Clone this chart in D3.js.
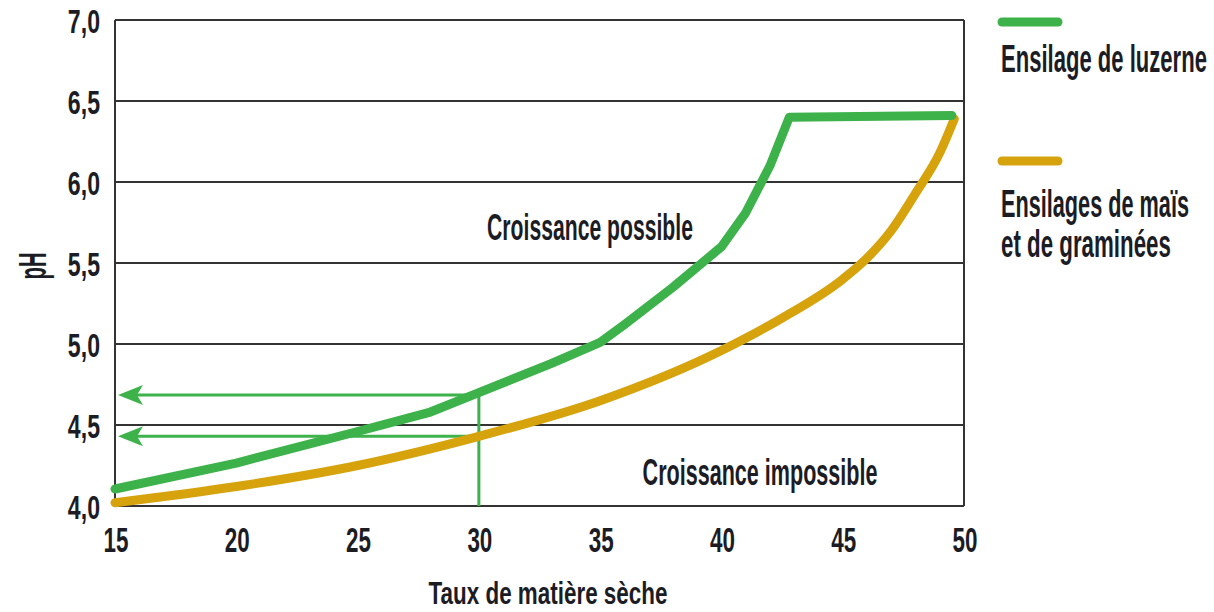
<!DOCTYPE html>
<html><head><meta charset="utf-8">
<script src="https://cdn.jsdelivr.net/npm/d3@7"></script>
<style>
body{margin:0;background:#fff;}
text{font-family:"Liberation Sans","DejaVu Sans",sans-serif;font-weight:bold;fill:#1c1c24;}
</style></head>
<body><svg id="c" width="1214" height="612"></svg>
<script>
const xTicks=[15,20,25,30,35,40,45,50];
const yTicks=[4.0,4.5,5.0,5.5,6.0,6.5,7.0];
const luzerneX=[15,20,25,28,30,33,35,36,38,40,41,42,42.8,49.5];
const luzerneY=[4.105,4.265,4.46,4.58,4.70,4.88,5.01,5.12,5.35,5.60,5.81,6.10,6.40,6.41];
const maisX=[15,20,25,30,35,40,42.5,45,46,47,48,49,49.6];
const maisY=[4.02,4.12,4.25,4.43,4.65,4.96,5.16,5.40,5.53,5.70,5.93,6.18,6.39];
const arrowX=30, arrowYs=[4.685,4.43];
const legend=[{name:["Ensilage de luzerne"],color:"#3db24b"},{name:["Ensilages de maïs","et de graminées"],color:"#d6a30d"}];

const svg=d3.select("#c");
const x=d3.scaleLinear().domain([15,50]).range([115,964]);
const y=d3.scaleLinear().domain([4,7]).range([506,20]);
const green="#3db24b", yellow="#d6a30d";

// condensed text helper: scale horizontally to a fixed width (or fixed factor)
function ctext(g,tx,ty,str,fs,anchor,opt){
  opt=opt||{};
  const t=g.append("text").attr("font-size",fs).attr("text-anchor",anchor||"start").text(str);
  let sx=opt.sx||1;
  if(opt.width){ const len=t.node().getComputedTextLength(); sx=opt.width/len; }
  t.attr("transform",`translate(${tx},${ty})${opt.rot?` rotate(${opt.rot})`:""} scale(${sx},1)`);
  return t;
}

// grid lines
svg.append("g").selectAll("line").data(yTicks).join("line")
 .attr("x1",x(15)).attr("x2",x(50)).attr("y1",d=>y(d)).attr("y2",d=>y(d))
 .attr("stroke","#333").attr("stroke-width",2);
svg.append("line").attr("x1",x(15)).attr("x2",x(15)).attr("y1",y(7)).attr("y2",y(4)).attr("stroke","#333").attr("stroke-width",2);
svg.append("line").attr("x1",x(50)).attr("x2",x(50)).attr("y1",y(7)).attr("y2",y(4)).attr("stroke","#333").attr("stroke-width",2);

// arrows
const ga=svg.append("g");
ga.append("line").attr("x1",x(arrowX)).attr("x2",x(arrowX)).attr("y1",y(arrowYs[0])).attr("y2",y(4))
 .attr("stroke",green).attr("stroke-width",3);
arrowYs.forEach(v=>{
 ga.append("line").attr("x1",x(arrowX)).attr("x2",x(15)+20).attr("y1",y(v)).attr("y2",y(v))
  .attr("stroke",green).attr("stroke-width",3);
 const tx=x(15)+3, ty=y(v);
 ga.append("path").attr("d",`M${tx},${ty}L${tx+25},${ty-10}L${tx+19},${ty}L${tx+25},${ty+10}Z`).attr("fill",green);
});

// curves
const lineL=d3.line().x(d=>x(d[0])).y(d=>y(d[1])).curve(d3.curveLinear);
const lineM=d3.line().x(d=>x(d[0])).y(d=>y(d[1])).curve(d3.curveMonotoneX);
svg.append("path").attr("d",lineM(d3.zip(maisX,maisY))).attr("fill","none").attr("stroke",yellow).attr("stroke-width",9).attr("stroke-linecap","round").attr("stroke-linejoin","round");
svg.append("path").attr("d",lineL(d3.zip(luzerneX,luzerneY))).attr("fill","none").attr("stroke",green).attr("stroke-width",9).attr("stroke-linecap","round").attr("stroke-linejoin","round");

// tick labels
const gy=svg.append("g");
yTicks.forEach(d=>ctext(gy,100,y(d)+13,d.toFixed(1).replace(".",","),34,"end",{sx:0.68}));
const gx=svg.append("g");
xTicks.forEach(d=>ctext(gx,x(d)+1,552,String(d),35,"middle",{sx:0.64}));

ctext(svg,548,604,"Taux de matière sèche",32,"middle",{width:239});
ctext(svg,46,266,"pH",38,"middle",{width:27,rot:-90});

ctext(svg,590,240,"Croissance possible",37,"middle",{width:206});
ctext(svg,760,485,"Croissance impossible",37,"middle",{width:235});

// legend
const lg=svg.append("g");
const ly=[22,161];
const lb=[[72],[217,257]];
const lw=[[206],[188,170]];
legend.forEach((l,i)=>{
 lg.append("line").attr("x1",1002).attr("x2",1058).attr("y1",ly[i]).attr("y2",ly[i]).attr("stroke",l.color).attr("stroke-width",9).attr("stroke-linecap","round");
 l.name.forEach((t,j)=>ctext(lg,1001,lb[i][j],t,39,"start",{width:lw[i][j]}));
});
</script></body></html>
